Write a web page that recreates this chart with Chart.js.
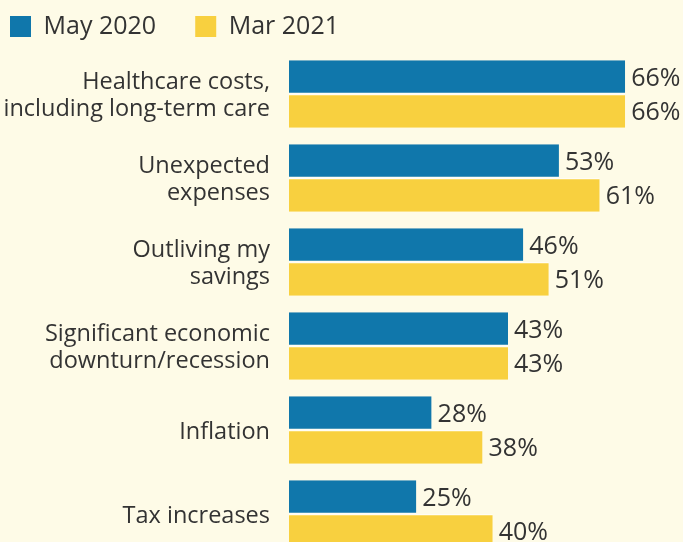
<!DOCTYPE html>
<html>
<head>
<meta charset="utf-8">
<script src="https://cdn.jsdelivr.net/npm/chart.js@4"></script>
<style>
  html, body { margin: 0; padding: 0; background: #fefbe7; overflow: hidden; }
  canvas { display: block; }
</style>
</head>
<body>
<canvas id="myChart" width="683" height="602"></canvas>
<script>
// data
let categories = [
  ['Healthcare costs,', 'including long-term care'],
  ['Unexpected', 'expenses'],
  ['Outliving my', 'savings'],
  ['Significant economic', 'downturn/recession'],
  'Inflation',
  'Tax increases'
];
let may2020 = [66, 53, 46, 43, 28, 25];
let mar2021 = [66, 61, 51, 43, 38, 40];
let seriesNames = ['May 2020', 'Mar 2021'];

let textColor = '#333333';
let fontFamily = "'Open Sans', sans-serif";

// draws the "66%" style labels at the end of every bar
let barLabels = {
  id: 'barLabels',
  afterDatasetsDraw(chart) {
    let ctx = chart.ctx;
    ctx.save();
    ctx.font = '25px ' + fontFamily;
    ctx.fillStyle = textColor;
    ctx.textBaseline = 'middle';
    ctx.textAlign = 'left';
    chart.data.datasets.forEach((ds, i) => {
      chart.getDatasetMeta(i).data.forEach((bar, j) => {
        ctx.fillText(ds.data[j] + '%', bar.x + 6, bar.y + 2);
      });
    });
    ctx.restore();
  }
};

// a bit more room under the legend
let legendGap = {
  id: 'legendGap',
  beforeLayout(chart) {
    let lg = chart.legend;
    if (lg && !lg._gapDone) {
      let fit = lg.fit;
      lg.fit = function() { fit.call(this); this.height += 3; };
      lg._gapDone = true;
    }
  }
};

let ctx = document.getElementById('myChart').getContext('2d');
window.chart = new Chart(ctx, {
  type: 'bar',
  data: {
    labels: categories,
    datasets: [{
      label: seriesNames[0],
      backgroundColor: '#1077ab',
      borderColor: '#ffffff',
      borderWidth: { top: 0, right: 0, bottom: 1, left: 0 },
      borderSkipped: false,
      data: may2020
    }, {
      label: seriesNames[1],
      backgroundColor: '#f8d03f',
      borderColor: '#ffffff',
      borderWidth: { top: 1, right: 0, bottom: 0, left: 0 },
      borderSkipped: false,
      data: mar2021
    }]
  },
  options: {
    indexAxis: 'y',
    responsive: false,
    animation: false,
    categoryPercentage: 0.81,
    barPercentage: 0.99,
    layout: { padding: { left: 0, right: 12, top: 4, bottom: 4 } },
    plugins: {
      tooltip: { enabled: false },
      legend: {
        position: 'top',
        align: 'start',
        labels: {
          boxWidth: 21,
          boxHeight: 21,
          padding: 10,
          color: textColor,
          font: { family: fontFamily, size: 25 },
          // extra room after each name so the second key sits further right
          generateLabels(chart) {
            let items = Chart.defaults.plugins.legend.labels.generateLabels(chart);
            items.forEach(it => {
              it.text = it.text + '\u2003\u2009';
              it.lineWidth = 0;
            });
            return items;
          }
        }
      }
    },
    scales: {
      x: { display: false, min: 0, max: 75 },
      y: {
        grid: { display: false, drawTicks: false },
        border: { display: false },
        ticks: {
          color: textColor,
          padding: 19,
          labelOffset: 2,
          font: { family: fontFamily, size: 23.5, lineHeight: 1.15 }
        },
        afterFit(scale) { scale.width = 289; }
      }
    }
  },
  plugins: [barLabels, legendGap]
});
</script>
</body>
</html>
